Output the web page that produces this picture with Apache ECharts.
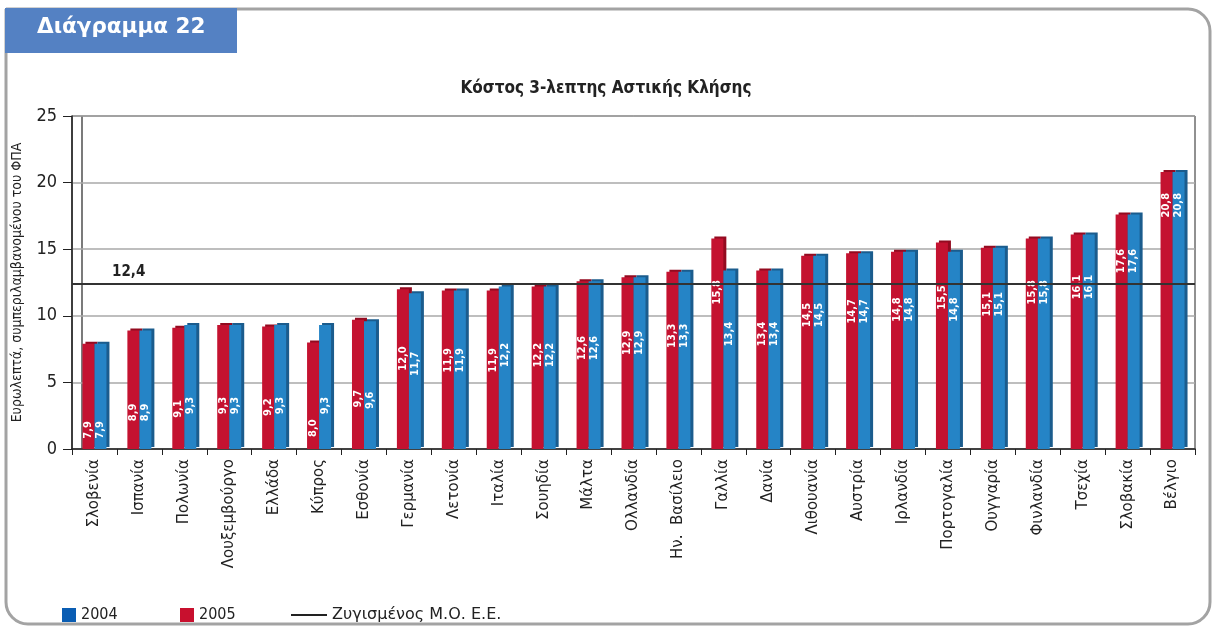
<!DOCTYPE html>
<html>
<head>
<meta charset="utf-8">
<script src="https://cdn.jsdelivr.net/npm/echarts@6/dist/echarts.min.js"></script>
<style>
  html, body { margin: 0; padding: 0; background: #fff; }
  #main { width: 1212px; height: 626px; }
</style>
</head>
<body>
<div id="main"></div>
<script>
// χώρες
var countries = ["Σλοβενία", "Ισπανία", "Πολωνία", "Λουξεμβούργο", "Ελλάδα", "Κύπρος", "Εσθονία",
  "Γερμανία", "Λετονία", "Ιταλία", "Σουηδία", "Μάλτα", "Ολλανδία", "Ην.  Βασίλειο", "Γαλλία", "Δανία",
  "Λιθουανία", "Αυστρία", "Ιρλανδία", "Πορτογαλία", "Ουγγαρία", "Φινλανδία", "Τσεχία", "Σλοβακία", "Βέλγιο"];
// κόκκινες μπάρες (πρώτες σε κάθε ομάδα)
var values2005 = [7.9, 8.9, 9.1, 9.3, 9.2, 8.0, 9.7, 12.0, 11.9, 11.9, 12.2, 12.6, 12.9, 13.3, 15.8, 13.4,
  14.5, 14.7, 14.8, 15.5, 15.1, 15.8, 16.1, 17.6, 20.8];
// μπλε μπάρες
var values2004 = [7.9, 8.9, 9.3, 9.3, 9.3, 9.3, 9.6, 11.7, 11.9, 12.2, 12.2, 12.6, 12.9, 13.3, 13.4, 13.4,
  14.5, 14.7, 14.8, 14.8, 15.1, 15.8, 16.1, 17.6, 20.8];
var euAverage = 12.4;
var yTicks = [0, 5, 10, 15, 20, 25];

var condensed = "'DejaVu Sans Condensed', 'DejaVu Sans', sans-serif";

// θέση ετικέτας μέσα στη μπάρα (όπως στο πρωτότυπο)
function labelPos(v) {
  var fromBottom = 1.308 * v - 8.9;
  var fromTop = 1 - fromBottom / v;
  return ["50%", (fromTop * 100).toFixed(1) + "%"];
}

function barData(arr) {
  return arr.map(function (v) {
    return { value: v, label: { position: labelPos(v) } };
  });
}

var barLabel = {
  show: true,
  rotate: 90,
  align: "center",
  verticalAlign: "middle",
  color: "#fff",
  fontFamily: condensed,
  fontWeight: "bold",
  fontSize: 11,
  formatter: function (p) { return p.value.toFixed(1).replace(".", ","); }
};

var chartDom = document.getElementById("main");
var myChart = echarts.init(chartDom);

var option = {
  animation: false,
  grid: { left: 72, right: 17, top: 116, bottom: 177, show: true, borderColor: "#222", borderWidth: 1 },
  legend: [
    {
      left: 57, top: 602, itemWidth: 14, itemHeight: 14, itemGap: 8, icon: "rect",
      textStyle: { fontFamily: condensed, fontSize: 16, color: "#222" },
      data: [{ name: "2004", itemStyle: { color: "#0a5db3" } }]
    },
    {
      left: 175, top: 602, itemWidth: 14, itemHeight: 14, icon: "rect",
      textStyle: { fontFamily: condensed, fontSize: 16, color: "#222" },
      data: [{ name: "2005", itemStyle: { color: "#c8102e" } }]
    },
    {
      left: 286, top: 602, itemWidth: 36, itemHeight: 2, icon: "rect",
      textStyle: { fontFamily: "'DejaVu Sans', sans-serif", fontSize: 16, color: "#222" },
      data: [{ name: "Ζυγισμένος Μ.Ο. Ε.Ε.", itemStyle: { color: "#222" } }]
    }
  ],
  xAxis: {
    type: "category",
    data: countries,
    axisLine: { lineStyle: { color: "#222", width: 1.5 } },
    axisTick: { show: true, length: 6, interval: 0, lineStyle: { color: "#222" } },
    axisLabel: {
      interval: 0, rotate: 90, margin: 10,
      fontFamily: "'DejaVu Sans', sans-serif", fontSize: 15, color: "#222"
    }
  },
  yAxis: {
    type: "value",
    min: yTicks[0],
    max: yTicks[yTicks.length - 1],
    interval: 5,
    name: "Ευρωλεπτά, συμπεριλαμβανομένου του ΦΠΑ",
    nameLocation: "middle",
    nameGap: 48,
    nameTextStyle: { fontFamily: condensed, fontSize: 14, color: "#222" },
    axisLine: { show: true, lineStyle: { color: "#222", width: 1.5 } },
    axisTick: { show: true, length: 9, lineStyle: { color: "#222" } },
    axisLabel: { fontFamily: condensed, fontSize: 18, color: "#222", margin: 15 },
    splitLine: { lineStyle: { color: "#a8a8a8", width: 1.5 } }
  },
  series: [
    {
      name: "2005",
      type: "bar",
      data: barData(values2005),
      barWidth: 12,
      barGap: "0%",
      itemStyle: { color: "#c41230", shadowColor: "#930b20", shadowOffsetX: 3, shadowOffsetY: -2, shadowBlur: 0 },
      label: barLabel
    },
    {
      name: "2004",
      type: "bar",
      data: barData(values2004),
      barWidth: 12,
      barGap: "0%",
      itemStyle: { color: "#2584c6", shadowColor: "#1b5c8d", shadowOffsetX: 3, shadowOffsetY: -2, shadowBlur: 0 },
      label: barLabel
    },
    {
      name: "Ζυγισμένος Μ.Ο. Ε.Ε.",
      type: "line",
      data: [],
      itemStyle: { color: "#222" },
      markLine: {
        silent: true,
        symbol: "none",
        lineStyle: { color: "#333", width: 2, type: "solid" },
        label: {
          position: "insideStartTop",
          distance: [40, 4],
          formatter: String(euAverage).replace(".", ","),
          fontFamily: condensed, fontWeight: "bold", fontSize: 15, color: "#222"
        },
        data: [{ yAxis: euAverage }]
      }
    }
  ],
  title: {
    text: "Κόστος 3-λεπτης Αστικής Κλήσης",
    left: "center",
    top: 75,
    textStyle: { fontFamily: condensed, fontWeight: "bold", fontSize: 17, color: "#222" }
  },
  graphic: [
    {
      type: "rect", z: -1,
      shape: { x: 6, y: 9, width: 1204, height: 615, r: [0, 22, 22, 22] },
      style: { fill: "#fff", stroke: "#a3a3a3", lineWidth: 3 }
    },
    {
      type: "line",
      shape: { x1: 82, y1: 116, x2: 82, y2: 449 },
      style: { stroke: "#222", lineWidth: 1.2 }
    },
    {
      type: "rect",
      shape: { x: 5, y: 8, width: 232, height: 45 },
      style: { fill: "#5481c3" }
    },
    {
      type: "text",
      left: 37, top: 16,
      style: { text: "Διάγραμμα 22", fill: "#fff", font: "bold 21.5px 'DejaVu Sans', sans-serif" }
    }
  ]
};

option && myChart.setOption(option);
</script>
</body>
</html>
